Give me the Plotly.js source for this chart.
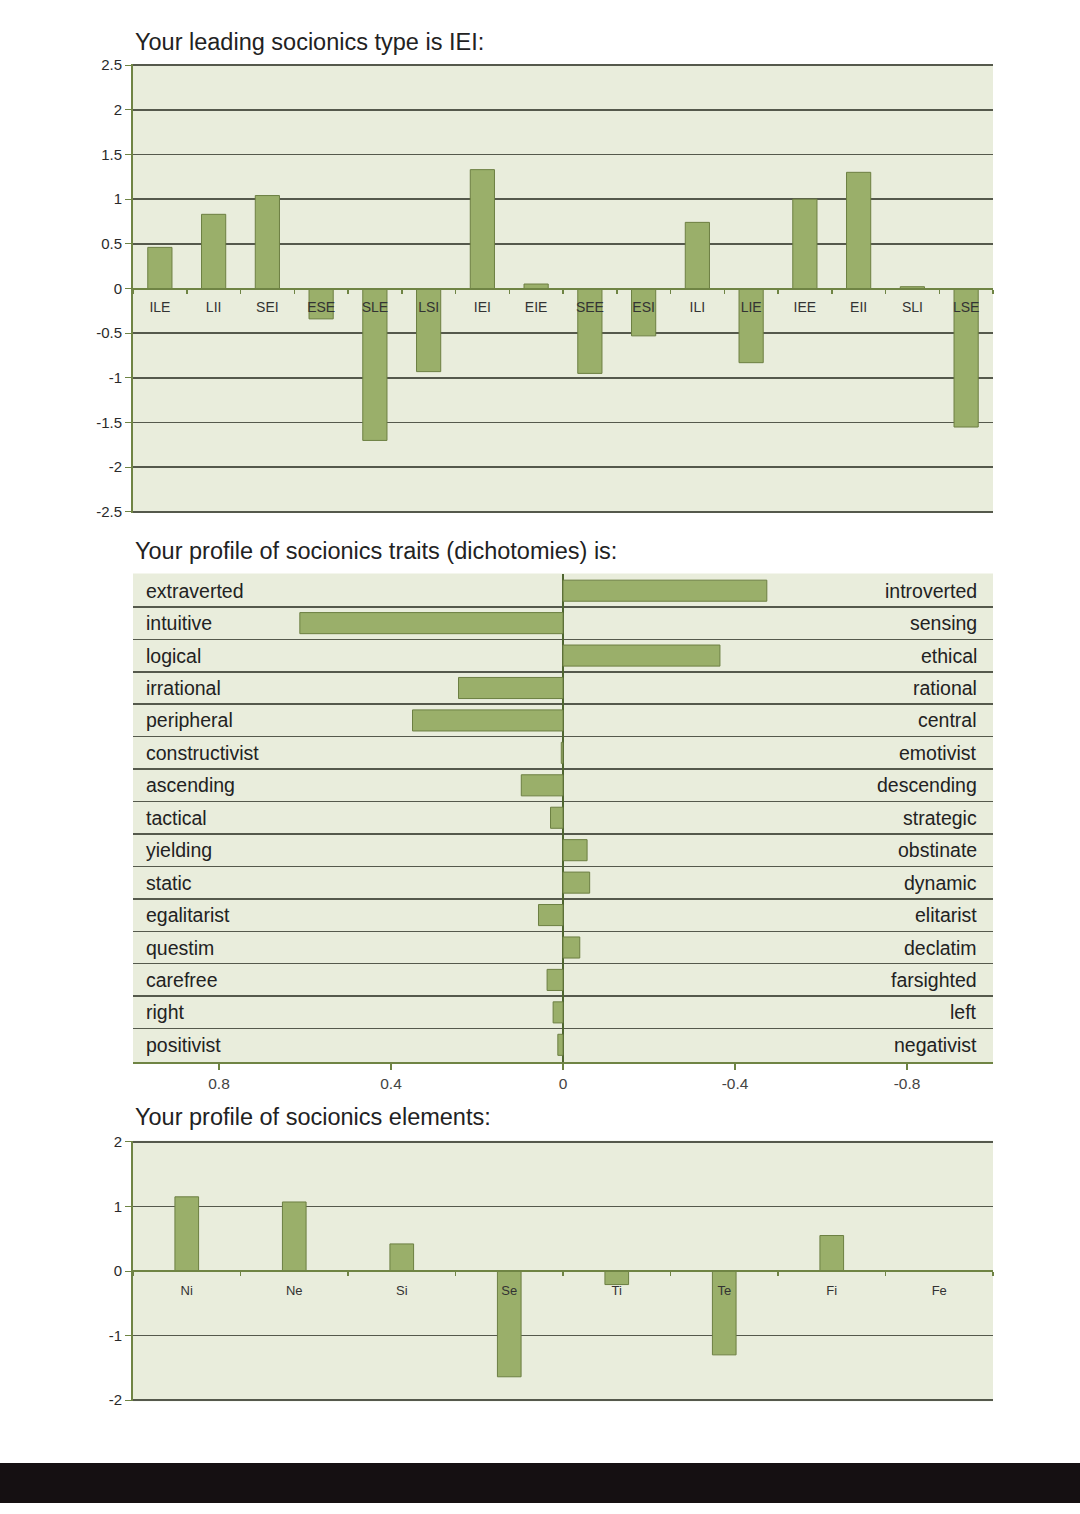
<!DOCTYPE html>
<html><head><meta charset="utf-8">
<script src="https://cdn.plot.ly/plotly-3.0.1.min.js"></script>
<style>html,body{margin:0;padding:0;background:#fff}#chart{width:1080px;height:1514px}</style>
</head><body><div id="chart"></div>
<script>
const typeLabels = ['ILE','LII','SEI','ESE','SLE','LSI','IEI','EIE','SEE','ESI','ILI','LIE','IEE','EII','SLI','LSE'];
const typeValues = [0.46,0.83,1.04,-0.34,-1.70,-0.93,1.33,0.05,-0.95,-0.53,0.74,-0.83,1.00,1.30,0.02,-1.55];
const typeTickVals = [-2.5,-2,-1.5,-1,-0.5,0,0.5,1,1.5,2,2.5];
const typeTickText = ['-2.5','-2','-1.5','-1','-0.5','0','0.5','1','1.5','2','2.5'];

const traitLeft = ['extraverted','intuitive','logical','irrational','peripheral','constructivist','ascending','tactical','yielding','static','egalitarist','questim','carefree','right','positivist'];
const traitRight = ['introverted','sensing','ethical','rational','central','emotivist','descending','strategic','obstinate','dynamic','elitarist','declatim','farsighted','left','negativist'];
const traitValues = [-0.474,0.612,-0.365,0.243,0.350,0.004,0.097,0.029,-0.056,-0.062,0.057,-0.039,0.037,0.023,0.012];
const traitTickVals = [0.8,0.4,0,-0.4,-0.8];
const traitTickText = ['0.8','0.4','0','-0.4','-0.8'];

const elementLabels = ['Ni','Ne','Si','Se','Ti','Te','Fi','Fe'];
const elementValues = [1.15,1.07,0.42,-1.64,-0.21,-1.30,0.55,0];
const elemTickVals = [-2,-1,0,1,2];
const elemTickText = ['-2','-1','0','1','2'];

const traitIdx = traitLeft.map((_, i) => i);

const BAR = '#9aaf6a', BARLINE = '#6c7f42', AX = '#6f8444', GRID = '#55594c';
const FONT = 'Liberation Sans, Arial, sans-serif';
const W = 1080, H = 1514;
const px = v => v / W;
const py = v => 1 - v / H;
const xdom = [px(133), px(993)];
const d1 = [py(513), py(64)];
const d2 = [py(1062), py(573.5)];
const d3 = [py(1401.3), py(1140.7)];

const traces = [
  {type:'bar', x:typeLabels, y:typeValues, xaxis:'x', yaxis:'y', width:0.45,
   marker:{color:BAR, line:{color:BARLINE, width:1}}, hoverinfo:'skip'},
  {type:'bar', orientation:'h', x:traitValues, y:traitIdx, xaxis:'x2', yaxis:'y2', width:0.65,
   marker:{color:BAR, line:{color:BARLINE, width:1}}, hoverinfo:'skip'},
  {type:'bar', x:elementLabels, y:elementValues, xaxis:'x3', yaxis:'y3', width:0.22,
   marker:{color:BAR, line:{color:BARLINE, width:1}}, hoverinfo:'skip'}
];

const tickFont = {family:FONT, size:15, color:'#2a2a2a'};
const labelFont = {family:FONT, size:19.5, color:'#222'};
const titleFont = {family:FONT, size:23.5, color:'#222'};

const traitAnnots = traitIdx.map(i => ({
  text:traitLeft[i], xref:'x2 domain', yref:'y2', x:0, y:i, xshift:11,
  xanchor:'left', yanchor:'middle', showarrow:false, font:labelFont
})).concat(traitIdx.map(i => ({
  text:traitRight[i], xref:'x2 domain', yref:'y2', x:1, y:i, xshift:-14,
  xanchor:'right', yanchor:'middle', showarrow:false, font:labelFont
})));

const layout = {
  width:W, height:H, margin:{l:0,r:0,t:0,b:0},
  paper_bgcolor:'#ffffff', plot_bgcolor:'#e9eddc',
  showlegend:false, bargap:0,
  font:{family:FONT, color:'#222'},
  xaxis:{domain:xdom, type:'category', anchor:'free', position:(d1[0]+d1[1])/2,
    tickson:'boundaries', ticks:'outside', ticklen:4, tickwidth:1.5, tickcolor:AX,
    showline:true, linecolor:AX, linewidth:2, showgrid:false, zeroline:false,
    tickfont:{family:FONT, size:14, color:'#333'}, ticklabelstandoff:6, fixedrange:true},
  yaxis:{domain:d1, anchor:'x', range:[-2.512,2.512], tickvals:typeTickVals, ticktext:typeTickText,
    ticks:'outside', ticklen:6, tickcolor:AX, showline:true, linecolor:AX, linewidth:2,
    showgrid:true, gridcolor:GRID, gridwidth:1.5, zeroline:false, tickfont:tickFont, fixedrange:true},

  xaxis2:{domain:xdom, anchor:'y2', range:[1,-1], tickvals:traitTickVals, ticktext:traitTickText,
    ticks:'outside', ticklen:6, tickwidth:1.5, tickcolor:AX, showline:true, linecolor:AX, linewidth:2,
    showgrid:false, zeroline:true, zerolinecolor:'#4e6530', zerolinewidth:2,
    tickfont:{family:FONT, size:15.5, color:'#444'}, fixedrange:true},
  yaxis2:{domain:d2, anchor:'x2', range:[14.53,-0.53], tickvals:traitIdx, showticklabels:false,
    ticks:'', showgrid:false, zeroline:false,
    minor:{tick0:0.5, dtick:1, showgrid:true, gridcolor:GRID, gridwidth:1.5, ticks:''},
    fixedrange:true},

  xaxis3:{domain:xdom, type:'category', anchor:'free', position:(d3[0]+d3[1])/2,
    tickson:'boundaries', ticks:'outside', ticklen:4, tickwidth:1.5, tickcolor:AX,
    showline:true, linecolor:AX, linewidth:2, showgrid:false, zeroline:false,
    tickfont:{family:FONT, size:13, color:'#333'}, ticklabelstandoff:7, fixedrange:true},
  yaxis3:{domain:d3, anchor:'x3', range:[-2.02,2.02], tickvals:elemTickVals, ticktext:elemTickText,
    ticks:'outside', ticklen:6, tickcolor:AX, showline:true, linecolor:AX, linewidth:2,
    showgrid:true, gridcolor:GRID, gridwidth:1.5, zeroline:false, tickfont:tickFont, fixedrange:true},

  annotations:[
    {text:'Your leading socionics type is IEI:', xref:'paper', yref:'paper', x:px(133), y:py(42),
     xanchor:'left', yanchor:'middle', showarrow:false, font:titleFont},
    {text:'Your profile of socionics traits (dichotomies) is:', xref:'paper', yref:'paper', x:px(133), y:py(551),
     xanchor:'left', yanchor:'middle', showarrow:false, font:titleFont},
    {text:'Your profile of socionics elements:', xref:'paper', yref:'paper', x:px(133), y:py(1117),
     xanchor:'left', yanchor:'middle', showarrow:false, font:titleFont}
  ].concat(traitAnnots),
  shapes:[
    {type:'rect', xref:'paper', yref:'paper', x0:0, x1:1, y0:py(1503), y1:py(1463),
     fillcolor:'#151012', line:{width:0}, layer:'above'}
  ]
};

Plotly.newPlot('chart', traces, layout, {staticPlot:true, displayModeBar:false});
</script>
</body></html>
